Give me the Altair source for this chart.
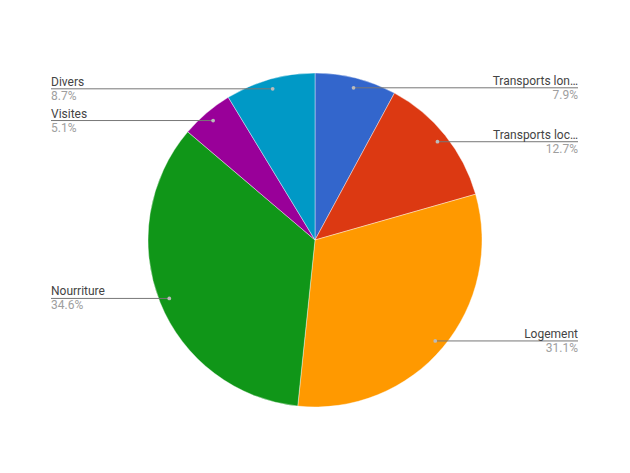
import altair as alt
import pandas as pd
import numpy as np

categories = ["Transports lon…", "Transports loc…", "Logement", "Nourriture", "Visites", "Divers"]
values = [7.9, 12.7, 31.1, 34.6, 5.1, 8.7]
colors = ["#3366cc", "#dc3912", "#ff9900", "#109618", "#990099", "#0099c6"]

CX, CY, R = 307, 232, 167
RD = 157
LEFT_X, RIGHT_X = 43, 570

df = pd.DataFrame({"cat": categories, "val": values, "order": list(range(len(values)))})
total = df["val"].sum()
mid = (df["val"].cumsum() - df["val"] / 2) / total * 2 * np.pi
df["px"] = CX + RD * np.sin(mid)
df["py"] = CY - RD * np.cos(mid)
df["side"] = np.where(np.sin(mid) >= 0, "right", "left")
df["lx"] = np.where(df["side"] == "right", RIGHT_X, LEFT_X)
df["pct"] = df["val"].map(lambda v: f"{v:.1f}%")

base = alt.Chart(df)

pie = base.mark_arc(outerRadius=R, stroke="white", strokeWidth=0.4).encode(
    theta=alt.Theta("val:Q", stack=True),
    color=alt.Color("cat:N", scale=alt.Scale(domain=categories, range=colors), legend=None),
    order=alt.Order("order:Q"),
    x=alt.value(CX),
    y=alt.value(CY),
)

xs = alt.X("px:Q", scale=None, axis=None)
ys = alt.Y("py:Q", scale=None, axis=None)

rules = base.mark_rule(color="#777777", strokeWidth=1).encode(
    x=xs, x2=alt.X2("lx:Q"), y=ys
)
dots = base.mark_circle(size=14, color="#bbbbbb", opacity=1).encode(x=xs, y=ys)

def labels(side, align):
    sub = base.transform_filter(alt.datum.side == side)
    name = sub.mark_text(align=align, baseline="alphabetic", dy=-3, font="Roboto",
                         fontSize=12, color="#444444").encode(
        x=alt.X("lx:Q", scale=None, axis=None), y=ys, text="cat:N")
    pct = sub.mark_text(align=align, baseline="alphabetic", dy=11, font="Roboto",
                        fontSize=12, color="#9e9e9e").encode(
        x=alt.X("lx:Q", scale=None, axis=None), y=ys, text="pct:N")
    return name + pct

chart = alt.layer(
    pie, rules, dots, labels("right", "right"), labels("left", "left")
).properties(
    width=614, height=457, padding=0, autosize=alt.AutoSizeParams(type="none")
).configure_view(stroke=None)

chart.save("out.html", embed_options={"renderer": "svg", "actions": False})
